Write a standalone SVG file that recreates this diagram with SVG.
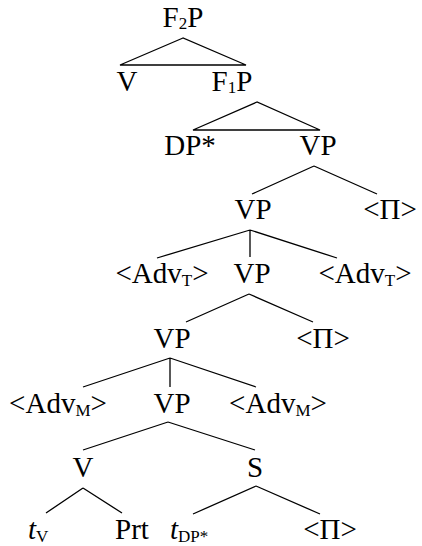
<svg xmlns="http://www.w3.org/2000/svg" width="422" height="546" viewBox="0 0 422 546">
<style>
text{font-family:"Liberation Serif","Times New Roman",serif;font-size:29px;fill:#000;text-anchor:middle}
.s{font-size:17px}
.st{text-anchor:start}
.e{stroke:#000;stroke-width:1.3;fill:none}
</style>
<rect width="422" height="546" fill="#fff"/>
<g id="connectors">
<polygon class="e" points="183,38 120,65 246,65"/>
<polygon class="e" points="257,102 193,130 320,130"/>
<path class="e" d="M314,166 L252,194 M314,166 L377,194"/>
<path class="e" d="M250,230 L157,258 M250,230 L250,257 M250,230 L337,258"/>
<path class="e" d="M249,294 L186,322 M249,294 L313,322"/>
<path class="e" d="M170,358 L83,387 M170,358 L170,387 M170,358 L256,387"/>
<path class="e" d="M168,422 L83,450 M168,422 L255,450"/>
<path class="e" d="M83,488 L46,513 M83,488 L122,513"/>
<path class="e" d="M256,486 L193,514 M256,486 L320,514"/>
</g>
<g id="n-f2p"><text x="183" y="27">F<tspan class="s" dy="2">2</tspan><tspan dy="-2">P</tspan></text></g>
<g id="n-v1"><text x="127" y="91">V</text></g>
<g id="n-f1p"><text x="232" y="91">F<tspan class="s" dy="2">1</tspan><tspan dy="-2">P</tspan></text></g>
<g id="n-dp"><text x="190" y="155">DP*</text></g>
<g id="n-vp1"><text x="318" y="155">VP</text></g>
<g id="n-vp2"><text x="253" y="219">VP</text></g>
<g id="n-pi1"><text x="390" y="219">&lt;Π&gt;</text></g>
<g id="n-advt1"><text x="162" y="283">&lt;Adv<tspan class="s" dy="3">T</tspan><tspan dy="-3">&gt;</tspan></text></g>
<g id="n-vp3"><text x="252" y="283">VP</text></g>
<g id="n-advt2"><text x="365" y="283">&lt;Adv<tspan class="s" dy="3">T</tspan><tspan dy="-3">&gt;</tspan></text></g>
<g id="n-vp4"><text x="172" y="348">VP</text></g>
<g id="n-pi2"><text x="323" y="348">&lt;Π&gt;</text></g>
<g id="n-advm1"><text x="58" y="413">&lt;Adv<tspan class="s" dy="3">M</tspan><tspan dy="-3">&gt;</tspan></text></g>
<g id="n-vp5"><text x="172" y="413">VP</text></g>
<g id="n-advm2"><text x="278" y="413">&lt;Adv<tspan class="s" dy="3">M</tspan><tspan dy="-3">&gt;</tspan></text></g>
<g id="n-v2"><text x="83" y="477">V</text></g>
<g id="n-s"><text x="255" y="477">S</text></g>
<g id="n-tv"><text class="st" x="28" y="539"><tspan font-style="italic">t</tspan><tspan class="s" dy="3">V</tspan></text></g>
<g id="n-prt"><text x="132" y="539">Prt</text></g>
<g id="n-tdp"><text class="st" x="170" y="539"><tspan font-style="italic">t</tspan><tspan class="s" dy="3">DP*</tspan></text></g>
<g id="n-pi3"><text x="330" y="539">&lt;Π&gt;</text></g>
</svg>
